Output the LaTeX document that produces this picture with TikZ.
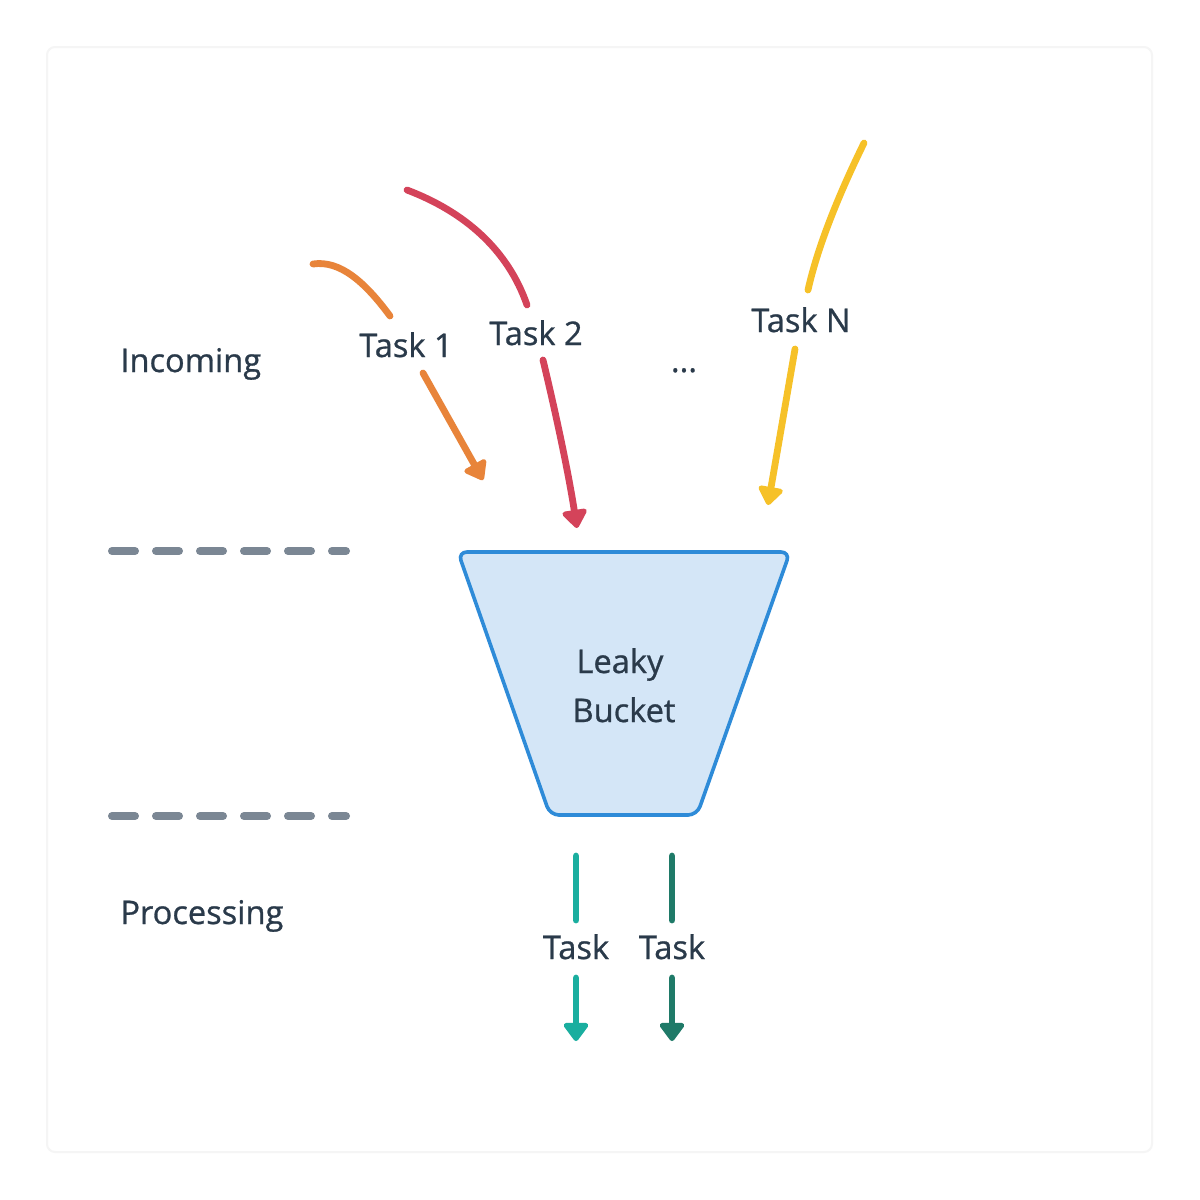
\documentclass[tikz,border=0pt]{standalone}
\usepackage{fontspec}
\setmainfont{Open Sans}
\newfontfamily\lblfont{Open Sans}[FakeBold=0.8]
\usetikzlibrary{arrows.meta}
\definecolor{txt}{HTML}{2A3A4A}
\definecolor{cOrange}{HTML}{E8843A}
\definecolor{cRed}{HTML}{D4435A}
\definecolor{cYellow}{HTML}{F6C128}
\definecolor{cTeal}{HTML}{1AAE9F}
\definecolor{cDark}{HTML}{1F7A68}
\definecolor{cGray}{HTML}{7B8794}
\definecolor{bFill}{HTML}{D4E6F7}
\definecolor{bDraw}{HTML}{2E8BD8}
\begin{document}
\begin{tikzpicture}[x=0.5pt,y=-0.5pt,
  lbl/.style={text=txt,font=\lblfont\fontsize{16.3}{19}\selectfont,inner sep=0pt,anchor=base},
  flow/.style={line width=3.4pt,line cap=round},
  tip/.style={flow,-{Triangle[width=14pt,length=10pt,round]}},
  sep/.style={cGray,line width=4pt,line cap=round,dash pattern=on 11.5pt off 10.5pt}]
\useasboundingbox (0,0) rectangle (1200,1200);
\fill[white] (0,0) rectangle (1200,1200);
\draw[black!4,line width=1pt,fill=white,rounded corners=4pt] (47,47) rectangle (1152,1152);

% labels
\node[lbl,anchor=base west] (inc) at (120,372) {Incoming};
\node[lbl,anchor=base west] (proc) at (120,924) {Processing};
\node[lbl] (t1) at (406,357) {Task 1};
\node[lbl] (t2) at (536,345) {Task 2};
\node[lbl] (tn) at (801,332) {Task N};
\node[lbl] (dots) at (684,372) {...};

% separators
\coordinate (s1a) at (112,551); \coordinate (s1b) at (346,551);
\coordinate (s2a) at (112,816); \coordinate (s2b) at (346,816);
\draw[sep] (s1a) -- (s1b);
\draw[sep] (s2a) -- (s2b);

% bucket
\draw[bDraw,fill=bFill,line width=1.8pt,rounded corners=4.5pt]
  (458,552) -- (790,552) -- (697,815) -- (550,815) -- cycle;
\node[lbl] (leaky) at (620,673) {Leaky};
\node[lbl] (bucket) at (624,722) {Bucket};

% incoming arrows
\coordinate (t1s) at (313,264); \coordinate (t1a) at (390,316);
\coordinate (t1b) at (423,373); \coordinate (t1e) at (483,480);
\draw[flow,cOrange] (t1s) .. controls (340,260) and (365,282) .. (t1a);
\draw[tip,cOrange] (t1b) -- (t1e);

\coordinate (t2s) at (407,190); \coordinate (t2a) at (527,305);
\coordinate (t2b) at (543,360); \coordinate (t2e) at (577,528);
\draw[flow,cRed] (t2s) .. controls (465,212) and (508,250) .. (t2a);
\draw[tip,cRed] (t2b) .. controls (555,410) and (568,470) .. (t2e);

\coordinate (tns) at (864,143); \coordinate (tna) at (808,290);
\coordinate (tnb) at (795,349); \coordinate (tne) at (768,505);
\draw[flow,cYellow] (tns) .. controls (840,192) and (818,245) .. (tna);
\draw[tip,cYellow] (tnb) -- (tne);

% outgoing
\node[lbl] (o1) at (576,959) {Task};
\node[lbl] (o2) at (672,959) {Task};
\coordinate (o1s) at (576,856); \coordinate (o1a) at (576,920);
\coordinate (o1b) at (576,978); \coordinate (o1e) at (576,1041);
\coordinate (o2s) at (672,856); \coordinate (o2a) at (672,920);
\coordinate (o2b) at (672,978); \coordinate (o2e) at (672,1041);
\draw[flow,cTeal] (o1s) -- (o1a);
\draw[tip,cTeal] (o1b) -- (o1e);
\draw[flow,cDark] (o2s) -- (o2a);
\draw[tip,cDark] (o2b) -- (o2e);
\end{tikzpicture}
\end{document}
